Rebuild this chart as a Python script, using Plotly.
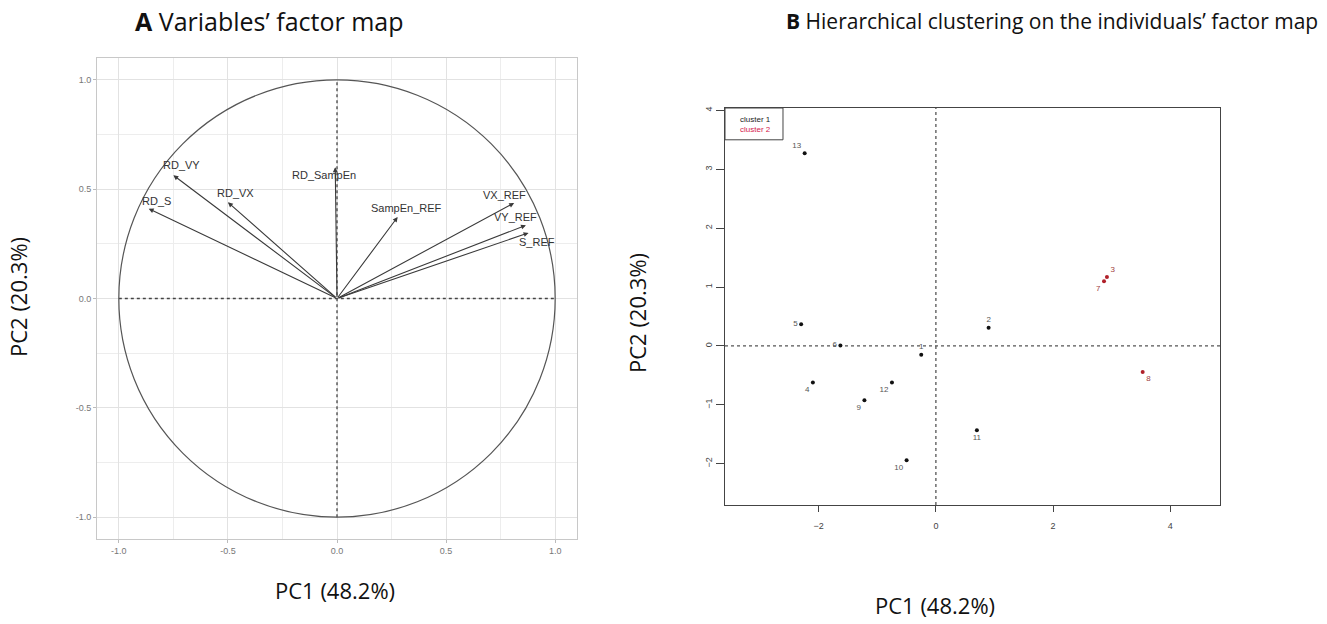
import plotly.graph_objects as go

# ---------------- data ----------------
var_names = ["RD_VY", "RD_S", "RD_VX", "RD_SampEn", "SampEn_REF", "VX_REF", "VY_REF", "S_REF"]
var_pc1 = [-0.75, -0.863, -0.50, -0.008, 0.278, 0.812, 0.866, 0.878]
var_pc2 = [0.564, 0.411, 0.44, 0.60, 0.373, 0.437, 0.335, 0.30]

ind_names = ["1", "2", "3", "4", "5", "6", "7", "8", "9", "10", "11", "12", "13"]
ind_pc1 = [-0.25, 0.90, 2.92, -2.10, -2.30, -1.63, 2.87, 3.53, -1.22, -0.50, 0.70, -0.75, -2.24]
ind_pc2 = [-0.15, 0.31, 1.17, -0.62, 0.37, 0.01, 1.10, -0.44, -0.92, -1.94, -1.43, -0.62, 3.27]
ind_cluster = [1, 1, 2, 1, 1, 1, 2, 2, 1, 1, 1, 1, 1]
cluster_names = ["cluster 1", "cluster 2"]

left_ticks = [-1.0, -0.5, 0.0, 0.5, 1.0]
right_xticks = [-2, 0, 2, 4]
right_yticks = [-2, -1, 0, 1, 2, 3, 4]

# ---------------- styles ----------------
var_label_shift = {  # pixel offsets of labels from arrow tips
    "RD_VY": (8, 10), "RD_S": (8, 8), "RD_VX": (8, 9), "RD_SampEn": (-11, -8),
    "SampEn_REF": (9, 9), "VX_REF": (-10, 8), "VY_REF": (-10, 8), "S_REF": (8, -9),
}
ind_textpos = ["top center", "top center", "top right", "bottom left", "middle left",
               "middle left", "bottom left", "bottom right", "bottom left", "bottom left",
               "bottom center", "bottom left", "top left"]
cluster_colors = {1: "#111111", 2: "#b0202a"}
legend_colors = ["#222222", "#d6204e"]

W, H = 1327, 624
def px_x(p): return p / W
def px_y(p): return 1 - p / H

fig = go.Figure()

# ---------------- left panel ----------------
fig.add_shape(type="circle", xref="x", yref="y", x0=-1, y0=-1, x1=1, y1=1,
              line=dict(color="#555555", width=1.2))
fig.add_trace(go.Scatter(x=[-1, 1], y=[0, 0], mode="lines", xaxis="x", yaxis="y",
                         line=dict(color="#444444", width=1.3, dash="dot"), showlegend=False, hoverinfo="skip"))
fig.add_trace(go.Scatter(x=[0, 0], y=[-1, 1], mode="lines", xaxis="x", yaxis="y",
                         line=dict(color="#444444", width=1.3, dash="dot"), showlegend=False, hoverinfo="skip"))

annotations = []
for n, vx, vy in zip(var_names, var_pc1, var_pc2):
    annotations.append(dict(x=vx, y=vy, xref="x", yref="y", ax=0, ay=0, axref="x", ayref="y",
                            text="", showarrow=True, arrowhead=2, arrowsize=0.9, arrowwidth=1.1,
                            arrowcolor="#3a3a3a", standoff=0, startstandoff=0))
    dx, dy = var_label_shift[n]
    annotations.append(dict(x=vx, y=vy, xref="x", yref="y", text=n, showarrow=False,
                            xshift=dx, yshift=dy, font=dict(family="Liberation Sans", size=11, color="#333333")))

# ---------------- right panel ----------------
fig.add_trace(go.Scatter(x=[-3.6, 4.85], y=[0, 0], mode="lines", xaxis="x2", yaxis="y2",
                         line=dict(color="#555555", width=1.3, dash="dot"), showlegend=False, hoverinfo="skip"))
fig.add_trace(go.Scatter(x=[0, 0], y=[-2.7, 4.04], mode="lines", xaxis="x2", yaxis="y2",
                         line=dict(color="#555555", width=1.3, dash="dot"), showlegend=False, hoverinfo="skip"))
for c in [1, 2]:
    idx = [i for i, k in enumerate(ind_cluster) if k == c]
    fig.add_trace(go.Scatter(
        x=[ind_pc1[i] for i in idx], y=[ind_pc2[i] for i in idx],
        text=[ind_names[i] for i in idx], textposition=[ind_textpos[i] for i in idx],
        mode="markers+text", xaxis="x2", yaxis="y2", showlegend=False,
        marker=dict(size=4, color=cluster_colors[c]),
        textfont=dict(family="Liberation Sans", size=8, color="#555555" if c == 1 else "#a04040")))

# legend box
fig.add_shape(type="rect", xref="x2", yref="y2", x0=-3.6, x1=-2.61, y0=3.50, y1=4.04,
              line=dict(color="#444444", width=1))
for i, (nm, col) in enumerate(zip(cluster_names, legend_colors)):
    annotations.append(dict(x=-2.78, y=3.84 - i * 0.17, xref="x2", yref="y2", text=nm,
                            showarrow=False, xanchor="right",
                            font=dict(family="Liberation Sans", size=8, color=col)))

# ---------------- titles ----------------
def tfont(s): return dict(family="Open Sans", size=s, color="#111111")
annotations += [
    dict(x=px_x(269), y=px_y(21), xref="paper", yref="paper", showarrow=False,
         xanchor="center", yanchor="middle",
         text="<b>A</b> Variables\u2019 factor map", font=tfont(25)),
    dict(x=px_x(1052), y=px_y(21), xref="paper", yref="paper", showarrow=False,
         xanchor="center", yanchor="middle",
         text="<b>B</b> Hierarchical clustering on the individuals\u2019 factor map", font=tfont(21)),
    dict(x=px_x(335), y=px_y(590), xref="paper", yref="paper", showarrow=False,
         xanchor="center", yanchor="middle", text="PC1 (48.2%)", font=tfont(22)),
    dict(x=px_x(935), y=px_y(605), xref="paper", yref="paper", showarrow=False,
         xanchor="center", yanchor="middle", text="PC1 (48.2%)", font=tfont(22)),
    dict(x=px_x(18), y=px_y(297), xref="paper", yref="paper", showarrow=False,
         xanchor="center", yanchor="middle", text="PC2 (20.3%)", textangle=-90, font=tfont(22)),
    dict(x=px_x(637), y=px_y(313), xref="paper", yref="paper", showarrow=False,
         xanchor="center", yanchor="middle", text="PC2 (20.3%)", textangle=-90, font=tfont(22)),
]

grid_major = "#e2e2e2"
grid_minor = "#ededed"
tickfont_l = dict(family="Liberation Sans", size=9, color="#777777")
fig.update_layout(
    width=W, height=H, margin=dict(l=0, r=0, t=0, b=0),
    paper_bgcolor="white", plot_bgcolor="white",
    annotations=annotations,
    xaxis=dict(domain=[px_x(97), px_x(577)], range=[-1.1, 1.1], tickvals=left_ticks,
               ticktext=[f"{v:.1f}" for v in left_ticks], tickfont=tickfont_l,
               showgrid=True, gridcolor=grid_major, gridwidth=1, zeroline=False,
               minor=dict(tickvals=[-0.75, -0.25, 0.25, 0.75], showgrid=True, gridcolor=grid_minor),
               showline=True, linecolor="#c8c8c8", mirror=True, ticks="outside", ticklen=3,
               tickcolor="#bbbbbb", anchor="y"),
    yaxis=dict(domain=[px_y(539), px_y(58)], range=[-1.1, 1.1], tickvals=left_ticks,
               ticktext=[f"{v:.1f}" for v in left_ticks], tickfont=tickfont_l,
               showgrid=True, gridcolor=grid_major, gridwidth=1, zeroline=False,
               minor=dict(tickvals=[-0.75, -0.25, 0.25, 0.75], showgrid=True, gridcolor=grid_minor),
               showline=True, linecolor="#c8c8c8", mirror=True, ticks="outside", ticklen=3,
               tickcolor="#bbbbbb", anchor="x"),
    xaxis2=dict(domain=[px_x(725), px_x(1220)], range=[-3.6, 4.85], tickvals=right_xticks,
                tickfont=dict(family="Liberation Sans", size=9, color="#444444"),
                showgrid=False, zeroline=False, showline=True, linecolor="#444444", linewidth=1.3,
                mirror=True, ticks="outside", ticklen=6, tickcolor="#444444", anchor="y2",
                ticklabelstandoff=6),
    yaxis2=dict(domain=[px_y(505), px_y(108)], range=[-2.7, 4.04], tickvals=right_yticks,
                tickfont=dict(family="Liberation Sans", size=9, color="#444444"), tickangle=-90,
                showgrid=False, zeroline=False, showline=True, linecolor="#444444", linewidth=1.3,
                mirror=True, ticks="outside", ticklen=8, tickcolor="#444444", anchor="x2"),
)

fig.write_html("out.html", config={"displayModeBar": False},
               post_script="document.body.style.margin='0px';document.body.style.overflow='hidden';")
